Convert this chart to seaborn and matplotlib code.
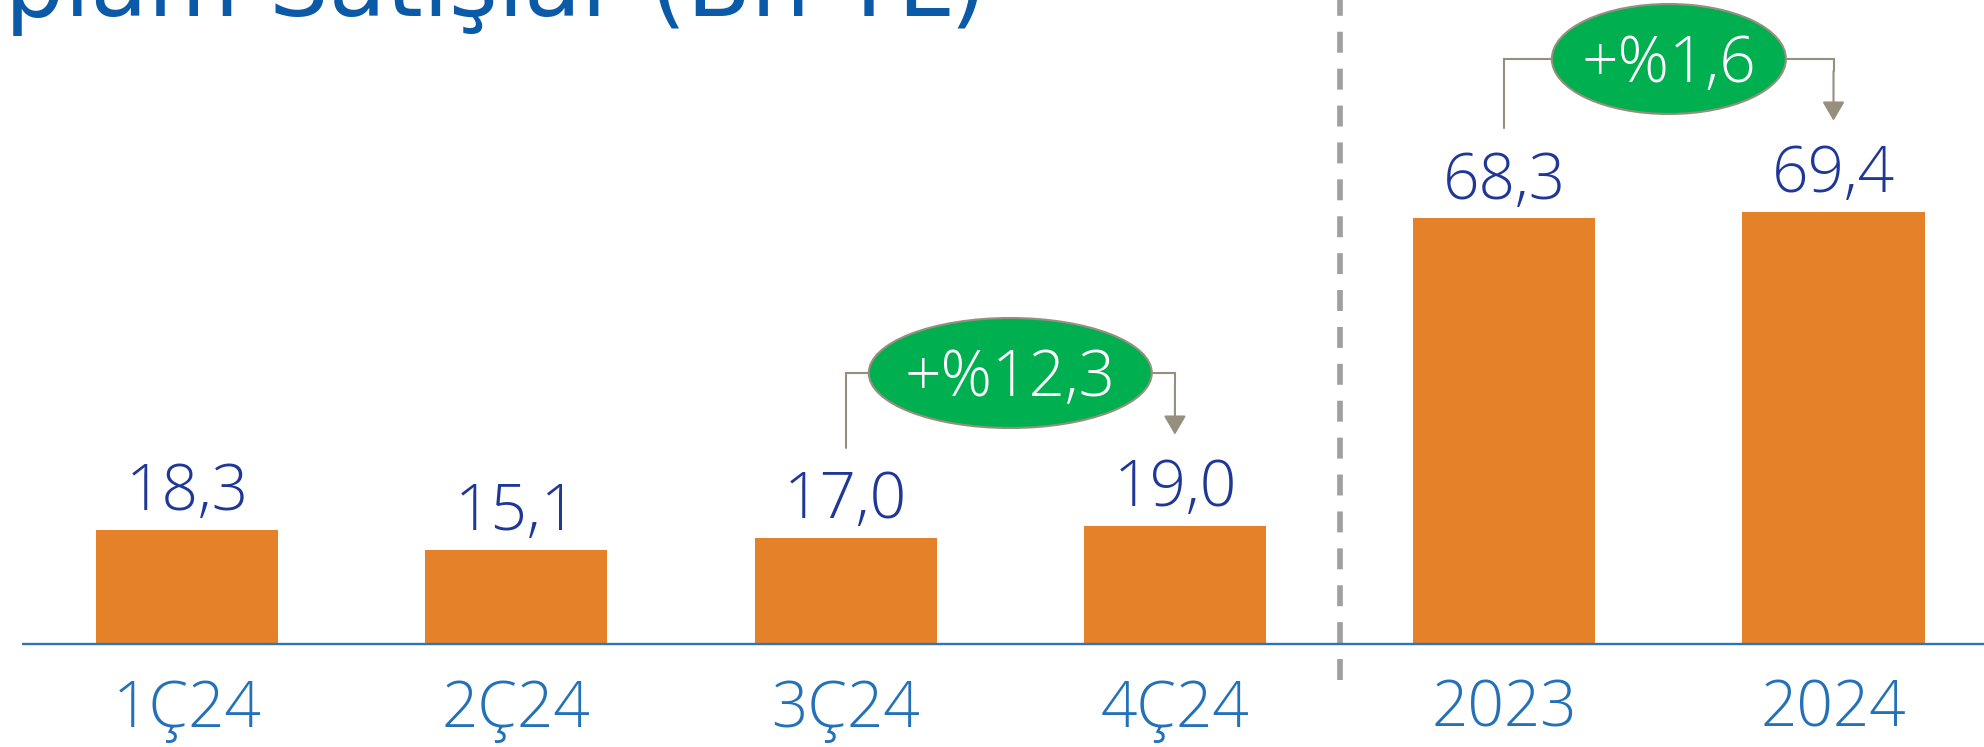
import matplotlib
matplotlib.use("Agg")
import matplotlib.pyplot as plt
from matplotlib.patches import Ellipse
import seaborn as sns
import pandas as pd

# ---- data -------------------------------------------------------------
periods = ["1Ç24", "2Ç24", "3Ç24", "4Ç24", "2023", "2024"]
sales = [18.3, 15.1, 17.0, 19.0, 68.3, 69.4]
value_labels = ["18,3", "15,1", "17,0", "19,0", "68,3", "69,4"]
growth_from = [2, 4]
growth_to = [3, 5]
growth_labels = ["+%12,3", "+%1,6"]
title = "Toplam Satışlar (Bn TL)"

# ---- style ------------------------------------------------------------
ORANGE = "#E58229"
VALUE_BLUE = "#1F3796"
TICK_BLUE = "#2371B8"
AXIS_BLUE = "#2E75B6"
TITLE_BLUE = "#0B5AA8"
GREEN = "#00B050"
CONNECTOR = "#968F7E"
DASH_GREY = "#A0A0A4"
LABEL_FONT = ["Open Sans", "DejaVu Sans"]
LABEL_SIZE = 46
BUBBLE_W_PX = [283, 234]
BUBBLE_H_PX = 110

sns.set_theme(style="white")
plt.rcParams["font.family"] = ["Open Sans", "DejaVu Sans"]

fig = plt.figure(figsize=(19.84, 7.47), dpi=100)
ax = fig.add_axes([0, 0, 1, 1])

df = pd.DataFrame({"period": periods, "sales": sales})
sns.barplot(data=df, x="period", y="sales", color=ORANGE, saturation=1,
            width=0.553, linewidth=0, ax=ax, zorder=2)
ax.set_xlim(-0.568, 5.457)
ax.set_ylim(-16.53, 103.37)
ax.axis("off")

# baseline
ax.plot([-0.5, 5.6], [0, 0], color=AXIS_BLUE, lw=1.7, zorder=3,
        solid_capstyle="butt")

# separator between quarterly and annual figures
ax.plot([3.5, 3.5], [-5.78, 115], color=DASH_GREY, lw=4.1,
        dashes=(3.68, 2.8), solid_capstyle="butt", zorder=1)

# value labels and category labels
for i, (v, lab, per) in enumerate(zip(sales, value_labels, periods)):
    ax.text(i, v + 3.2, lab, ha="center", va="baseline", fontsize=LABEL_SIZE,
            fontweight="light", color=VALUE_BLUE, family=LABEL_FONT)
    ax.text(i, -13.3, per, ha="center", va="baseline", fontsize=LABEL_SIZE,
            fontweight="light", color=TICK_BLUE, family=LABEL_FONT)

# growth bubbles with connectors
px_per_x = fig.bbox.width / (ax.get_xlim()[1] - ax.get_xlim()[0])
px_per_y = fig.bbox.height / (ax.get_ylim()[1] - ax.get_ylim()[0])
bubble_h = BUBBLE_H_PX / px_per_y

for a, b, lab, wpx in zip(growth_from, growth_to, growth_labels, BUBBLE_W_PX):
    cx = (a + b) / 2
    cy = max(sales[a], sales[b]) + 24.5
    bw = wpx / px_per_x
    ax.text(cx, cy - 3.7, lab, ha="center", va="baseline", fontsize=LABEL_SIZE,
            fontweight="light", color="white", zorder=6, family=LABEL_FONT)
    ax.add_patch(Ellipse((cx, cy), bw, bubble_h, facecolor=GREEN,
                         edgecolor=CONNECTOR, lw=1.5, zorder=5))
    # left leg
    ax.plot([a, a, cx - bw / 2], [sales[a] + 14.5, cy, cy], color=CONNECTOR,
            lw=1.5, zorder=4, solid_joinstyle="miter")
    # right leg with arrow
    ax.plot([cx + bw / 2, b, b], [cy, cy, cy - 2], color=CONNECTOR, lw=1.5,
            zorder=4, solid_joinstyle="miter")
    ax.annotate("", xy=(b, sales[b] + 14.6), xytext=(b, cy - 1.9),
                arrowprops=dict(arrowstyle="-|>,head_length=0.58,head_width=0.34",
                                mutation_scale=20, color=CONNECTOR, lw=1.5,
                                shrinkA=0, shrinkB=0),
                zorder=4)

# title, sized so that its right part spans the intended width;
# the opening letters run off the top-left of the canvas
fig.canvas.draw()
renderer = fig.canvas.get_renderer()
title_kw = dict(fontweight="normal", color=TITLE_BLUE, family=["DejaVu Sans"])
probe_full = fig.text(0, 0, title, fontsize=50, **title_kw)
probe_head = fig.text(0, 0, title[:2], fontsize=50, **title_kw)
w_full = probe_full.get_window_extent(renderer).width
w_head = probe_head.get_window_extent(renderer).width
probe_full.remove()
probe_head.remove()
title_size = 50 * 983 / (w_full - w_head)
fig.text(987 / 1984, 1 - 16 / 747, title, ha="right", va="baseline",
         fontsize=title_size, **title_kw)

fig.savefig("out.png", dpi=100)
